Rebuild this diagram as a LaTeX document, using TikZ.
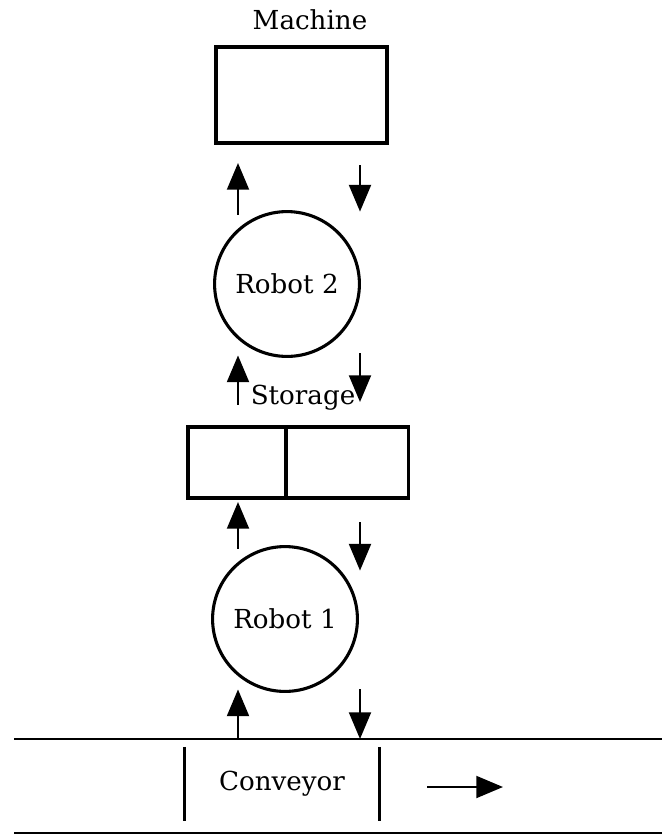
\documentclass[tikz,border=0pt]{standalone}
\usepackage{fontspec}
\setmainfont{DejaVu Serif}
\usetikzlibrary{arrows.meta,positioning,calc}

\begin{document}
\begin{tikzpicture}[
    x=0.0125cm, y=-0.0125cm,
    font=\fontsize{9.3}{11}\selectfont,
    box/.style={rectangle, draw, line width=1.1pt, outer sep=0pt, inner sep=0pt},
    robot/.style={circle, draw, line width=1.1pt, outer sep=0pt, minimum size=1.81cm},
    belt/.style={rectangle, outer sep=0pt, minimum width=2.4375cm, minimum height=0.925cm},
    flow/.style={-{Triangle[length=9.5pt, width=7.8pt]}, line width=0.8pt}
]
    \useasboundingbox (0,0) rectangle (662,836);

    \node [box, minimum width=2.1375cm, minimum height=1.2cm] (machine) at (301.5,95) {};
    \node (machinetxt) at (310,20) {Machine};

    \node [robot] (robot2) at (287,284) {Robot 2};

    \node [box, minimum width=1.225cm, minimum height=0.8875cm] (store1) at (237,462.5) {};
    \node [box, minimum width=1.525cm, minimum height=0.8875cm, right=0pt of store1] (store2) {};
    \node (storagetxt) at (303,398) {Storage};

    \node [robot] (robot1) at (285,619) {Robot 1};

    \node [belt] (conveyor) at (282,784) {Conveyor};
    \coordinate (beltTL) at (14,739);
    \coordinate (beltTR) at (662,739);
    \coordinate (beltBL) at (14,833);
    \coordinate (beltBR) at (662,833);
    \draw [line width=1pt] (beltTL) -- (beltTR);
    \draw [line width=1pt] (beltBL) -- (beltBR);
    \draw [line width=1pt] (conveyor.north west) -- (conveyor.south west);
    \draw [line width=1pt] (conveyor.north east) -- (conveyor.south east);

    % lanes for the up and down arrows
    \coordinate (upL) at (238,0);
    \coordinate (dnR) at (360,0);

    % machine and robot 2
    \draw [flow] ($(robot2.north -| upL)+(0,3)$) -- ($(machine.south -| upL)+(0,20)$);
    \draw [flow] ($(machine.south -| dnR)+(0,22)$) -- (robot2.north -| dnR);

    % robot 2 and storage
    \draw [flow] ($(store1.north -| upL)+(0,-22)$) -- ($(robot2.south -| upL)+(0,-1)$);
    \draw [flow] ($(robot2.south -| dnR)+(0,-3)$) -- ($(store2.north -| dnR)+(0,-25)$);

    % storage and robot 1
    \draw [flow] ($(robot1.north -| upL)+(0,2)$) -- ($(store1.south -| upL)+(0,4)$);
    \draw [flow] ($(store2.south -| dnR)+(0,24)$) -- ($(robot1.north -| dnR)+(0,24)$);

    % robot 1 and conveyor
    \draw [flow] (beltTL -| upL) -- ($(robot1.south -| upL)+(0,-2)$);
    \draw [flow] ($(robot1.south -| dnR)+(0,-2)$) -- (beltTL -| dnR);

    % conveyor direction
    \coordinate (moveA) at (427,787);
    \coordinate (moveB) at (503,787);
    \draw [flow] (moveA) -- (moveB);
\end{tikzpicture}
\end{document}
